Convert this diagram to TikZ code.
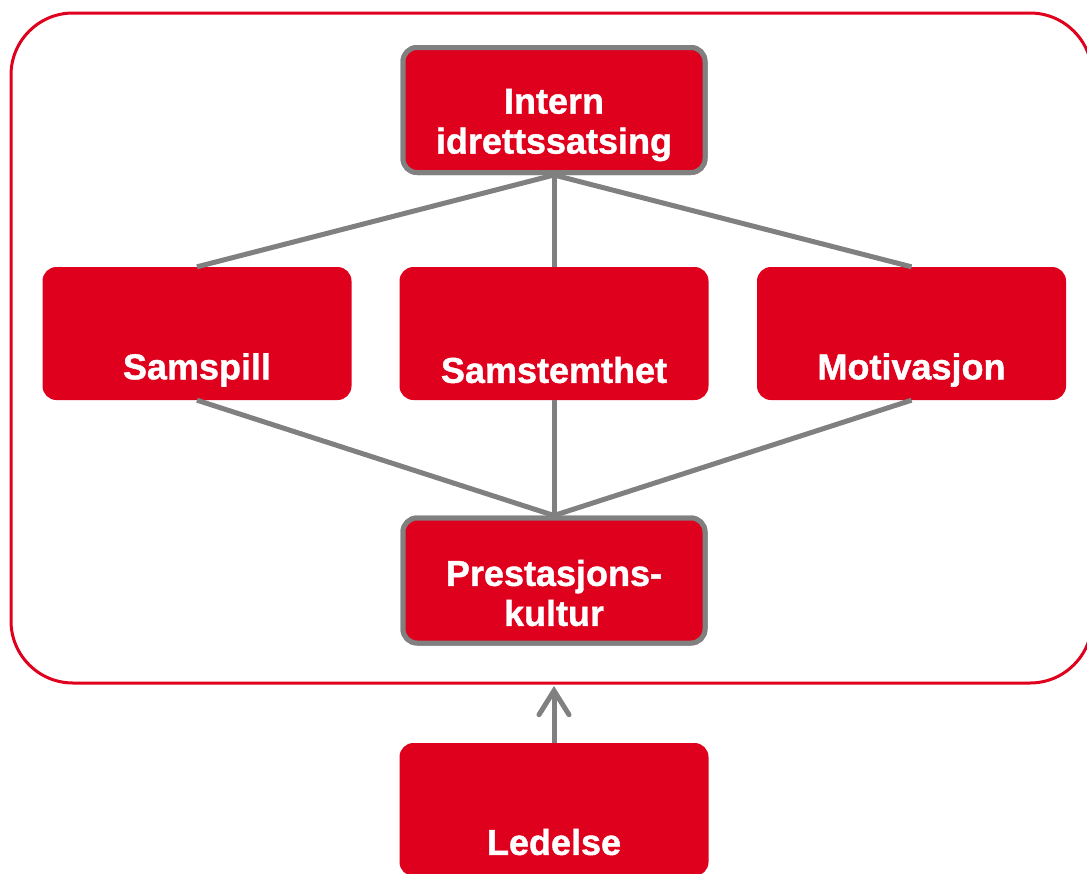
\documentclass[tikz,border=0pt]{standalone}
\usepackage{fontspec}
\setmainfont[BoldFeatures={FakeBold=1.2}]{Liberation Sans}
\usetikzlibrary{arrows.meta}
\definecolor{boxred}{RGB}{222,0,28}
\definecolor{linegray}{RGB}{128,128,128}
\tikzset{
  redbox/.style={rectangle, rounded corners=14pt, fill=boxred, minimum width=309pt, minimum height=133pt, inner sep=0pt},
  framedbox/.style={redbox, draw=linegray, line width=5pt, minimum width=302pt, minimum height=125pt},
  lbl/.style={text=white, font=\fontsize{36}{40}\selectfont\bfseries, align=center, inner sep=0pt},
  conn/.style={draw=linegray, line width=5pt},
  outer/.style={draw=boxred, line width=3pt, rounded corners=62pt}
}
\begin{document}
\begin{tikzpicture}[x=1pt,y=-1pt]
\useasboundingbox (0,0) rectangle (1087,873);
\draw[outer] (11,13) rectangle (1092,683);
\node[framedbox] (intern) at (554,110) {};
\node[redbox] (samspill) at (197,333.5) {};
\node[redbox] (samstemthet) at (554,333.5) {};
\node[redbox] (motivasjon) at (911.5,333.5) {};
\node[framedbox] (prestasjon) at (554,580.5) {};
\node[redbox] (ledelse) at (554,809.5) {};
\coordinate (arrowtip) at (554,686);
\draw[conn] (intern.south) -- (samspill.north);
\draw[conn] (intern.south) -- (samstemthet.north);
\draw[conn] (intern.south) -- (motivasjon.north);
\draw[conn] (samspill.south) -- (prestasjon.north);
\draw[conn] (samstemthet.south) -- (prestasjon.north);
\draw[conn] (motivasjon.south) -- (prestasjon.north);
\node[framedbox] at (intern) {};
\node[framedbox] at (prestasjon) {};
\draw[conn, -{Straight Barb[length=24pt, width=30pt, line cap=round]}] (ledelse.north) -- (arrowtip);
\node[lbl] (tintern) at (554,125) {Intern\\idrettssatsing};
\node[lbl] (tsamspill) at (197,370) {Samspill};
\node[lbl] (tsamstemthet) at (554,370) {Samstemthet};
\node[lbl] (tmotivasjon) at (911.5,370) {Motivasjon};
\node[lbl] (tprestasjon) at (554,593) {Prestasjons-\\kultur};
\node[lbl] (tledelse) at (554,842) {Ledelse};
\end{tikzpicture}
\end{document}
